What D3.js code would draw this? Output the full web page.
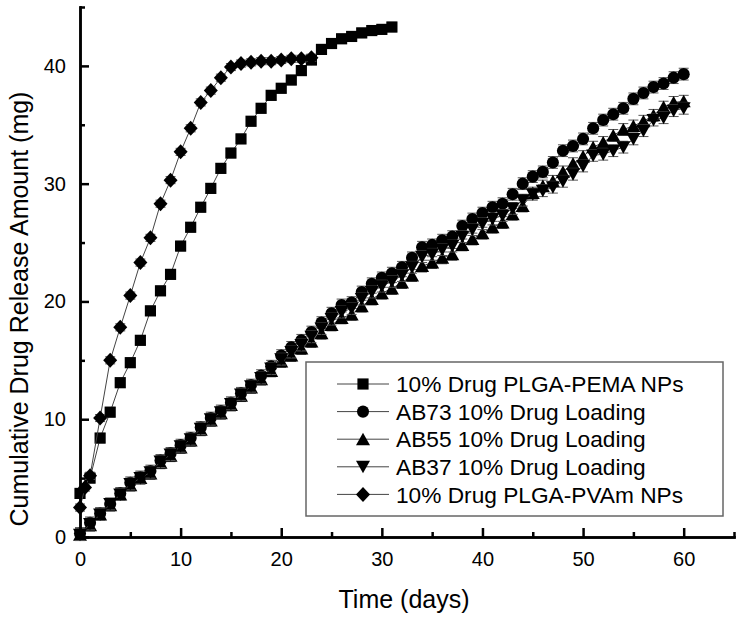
<!DOCTYPE html>
<html>
<head>
<meta charset="utf-8">
<script src="https://cdn.jsdelivr.net/npm/d3@7"></script>
<style>
  body { margin: 0; background: #fff; }
  text { font-family: Arial, "Liberation Sans", sans-serif; fill: #000; }
</style>
</head>
<body>
<svg id="chart" width="743" height="619"></svg>
<script>
// data (days, mg)
const pemaDays = [0, 1, 2, 3, 4, 5, 6, 7, 8, 9, 10, 11, 12, 13, 14, 15, 16, 17, 18, 19, 20,
                  21, 22, 23, 24, 25, 26, 27, 28, 29, 30, 31];
const pemaVals = [3.7, 5.0, 8.4, 10.6, 13.1, 14.8, 16.7, 19.2, 20.9, 22.3, 24.7, 26.3, 28.0, 29.6,
                  31.3, 32.6, 33.8, 35.3, 36.4, 37.5, 38.1, 38.8, 39.6, 40.5, 41.4, 41.9, 42.3,
                  42.5, 42.8, 43.0, 43.1, 43.3];

const pvamDays = [0, 0.5, 1, 2, 3, 4, 5, 6, 7, 8, 9, 10, 11, 12, 13, 14, 15, 16, 17, 18, 19,
                  20, 21, 22, 23];
const pvamVals = [2.5, 4.2, 5.2, 10.1, 15.0, 17.8, 20.5, 23.3, 25.4, 28.3, 30.3, 32.7, 34.7,
                  36.9, 37.9, 39.0, 39.9, 40.2, 40.3, 40.4, 40.4, 40.5, 40.6, 40.6, 40.7];

const abDays = [0, 1, 2, 3, 4, 5, 6, 7, 8, 9, 10, 11, 12, 13, 14, 15, 16, 17, 18, 19, 20,
                21, 22, 23, 24, 25, 26, 27, 28, 29, 30, 31, 32, 33, 34, 35, 36, 37, 38, 39, 40,
                41, 42, 43, 44, 45, 46, 47, 48, 49, 50, 51, 52, 53, 54, 55, 56, 57, 58, 59, 60];
const ab73Vals = [0.3, 1.2, 2.0, 2.8, 3.7, 4.6, 5.1, 5.6, 6.5, 7.1, 7.8, 8.4, 9.3, 10.1, 10.7,
                  11.4, 12.2, 12.9, 13.7, 14.5, 15.4, 16.1, 16.7, 17.4, 18.2, 19.0, 19.7, 19.9,
                  20.8, 21.5, 22.0, 22.4, 22.9, 23.7, 24.6, 24.8, 25.2, 25.5, 26.4, 27.0, 27.5,
                  28.0, 28.3, 29.1, 30.0, 30.6, 31.0, 31.8, 32.8, 33.2, 33.8, 34.7, 35.4, 35.9,
                  36.4, 37.2, 37.7, 38.2, 38.5, 39.0, 39.3];
const ab55Vals = [0.2, 1.0, 1.9, 2.7, 3.6, 4.4, 5.0, 5.4, 6.3, 6.9, 7.6, 8.2, 9.1, 9.9, 10.5,
                  11.2, 12.0, 12.7, 13.4, 14.1, 14.9, 15.4, 16.0, 16.6, 17.3, 18.0, 18.6, 18.9,
                  19.6, 20.2, 20.7, 21.1, 21.6, 22.2, 23.0, 23.3, 23.7, 24.0, 24.8, 25.3, 25.8,
                  26.3, 26.7, 27.4, 28.1, 29.2, 29.8, 30.2, 31.0, 31.7, 32.3, 33.1, 33.5, 34.1,
                  34.6, 34.9, 35.3, 35.8, 36.5, 36.9, 37.0];
const ab37Vals = [0.2, 1.1, 1.9, 2.8, 3.6, 4.5, 5.0, 5.5, 6.4, 7.0, 7.7, 8.3, 9.2, 10.0, 10.6,
                  11.3, 12.1, 12.8, 13.5, 14.3, 15.1, 15.7, 16.3, 17.0, 17.7, 18.5, 19.1, 19.4,
                  20.2, 20.8, 21.3, 21.7, 22.2, 22.9, 23.8, 24.0, 24.4, 24.7, 25.5, 26.1, 26.6,
                  27.0, 27.3, 27.9, 28.6, 29.1, 29.4, 29.7, 30.2, 30.8, 31.5, 32.4, 32.5, 32.8,
                  33.1, 33.8, 34.5, 35.4, 35.6, 36.2, 36.4];

const xTicks = [0, 10, 20, 30, 40, 50, 60];
const xMinor = [5, 15, 25, 35, 45, 55, 65];
const yTicks = [0, 10, 20, 30, 40];
const yMinor = [5, 15, 25, 35, 45];

const legendNames = ["10% Drug PLGA-PEMA NPs", "AB73 10% Drug Loading", "AB55 10% Drug Loading",
                     "AB37 10% Drug Loading", "10% Drug PLGA-PVAm NPs"];

// marker shapes
const triUp = { draw(ctx) { ctx.moveTo(0, -6.5); ctx.lineTo(7, 6); ctx.lineTo(-7, 6); ctx.closePath(); } };
const triDown = { draw(ctx) { ctx.moveTo(0, 6.5); ctx.lineTo(7, -6); ctx.lineTo(-7, -6); ctx.closePath(); } };
const diamond = { draw(ctx) { ctx.moveTo(0, -7.5); ctx.lineTo(7, 0); ctx.lineTo(0, 7.5); ctx.lineTo(-7, 0); ctx.closePath(); } };

const series = [
    { name: legendNames[0], days: pemaDays, vals: pemaVals, err: 0.4, shape: d3.symbolSquare, size: 125 },
    { name: legendNames[1], days: abDays, vals: ab73Vals, err: 0.5, shape: d3.symbolCircle, size: 115 },
    { name: legendNames[2], days: abDays, vals: ab55Vals, err: 0.5, shape: triUp, size: 64 },
    { name: legendNames[3], days: abDays, vals: ab37Vals, err: 0.5, shape: triDown, size: 64 },
    { name: legendNames[4], days: pvamDays, vals: pvamVals, err: 0.3, shape: diamond, size: 64 }
];

const svg = d3.select("#chart");
svg.append("rect").attr("width", 743).attr("height", 619).attr("fill", "#fff");

const x = d3.scaleLinear().domain([0, 65]).range([80, 734]);
const y = d3.scaleLinear().domain([0, 45]).range([537, 7]);

// data
const plot = svg.append("g");
const line = d3.line().x(d => x(d[0])).y(d => y(d[1]));

series.forEach(s => {
    const pts = s.days.map((d, i) => [d, s.vals[i]]);

    plot.append("path")
        .datum(pts)
        .attr("d", line)
        .attr("fill", "none")
        .attr("stroke", "#444")
        .attr("stroke-width", 1);

    const eb = plot.append("g").attr("stroke", "#555").attr("stroke-width", 1);
    pts.forEach(p => {
        const cx = x(p[0]);
        eb.append("line").attr("x1", cx).attr("x2", cx)
            .attr("y1", y(p[1] - s.err)).attr("y2", y(p[1] + s.err));
        eb.append("line").attr("x1", cx - 5).attr("x2", cx + 5)
            .attr("y1", y(p[1] - s.err)).attr("y2", y(p[1] - s.err));
        eb.append("line").attr("x1", cx - 5).attr("x2", cx + 5)
            .attr("y1", y(p[1] + s.err)).attr("y2", y(p[1] + s.err));
    });

    plot.append("g").selectAll("path")
        .data(pts)
        .join("path")
        .attr("transform", d => `translate(${x(d[0])},${y(d[1])})`)
        .attr("d", d3.symbol().type(s.shape).size(s.size))
        .attr("fill", "#000");
});

// axes
function styleAxis(g) {
    g.select(".domain").attr("stroke", "#000").attr("stroke-width", 2.5).attr("stroke-linecap", "square");
    g.selectAll(".tick line").attr("stroke", "#000").attr("stroke-width", 2.5);
    g.selectAll(".tick text").style("font-size", "20px").attr("fill", "#000");
}

svg.append("g")
    .attr("transform", "translate(0,537)")
    .call(d3.axisBottom(x).tickValues(xMinor).tickSizeInner(-5).tickSizeOuter(0).tickFormat(""))
    .call(styleAxis);
svg.append("g")
    .attr("transform", "translate(0,537)")
    .call(d3.axisBottom(x).tickValues(xTicks).tickSizeInner(-9).tickSizeOuter(0).tickPadding(15))
    .call(styleAxis);

svg.append("g")
    .attr("transform", "translate(80,0)")
    .call(d3.axisLeft(y).tickValues(yMinor).tickSizeInner(-5).tickSizeOuter(0).tickFormat(""))
    .call(styleAxis);
svg.append("g")
    .attr("transform", "translate(80,0)")
    .call(d3.axisLeft(y).tickValues(yTicks).tickSizeInner(-9).tickSizeOuter(0).tickPadding(14))
    .call(styleAxis);

svg.append("text")
    .attr("x", 404).attr("y", 608)
    .attr("text-anchor", "middle")
    .style("font-size", "25px")
    .text("Time (days)");

svg.append("text")
    .attr("transform", "translate(28,309) rotate(-90)")
    .attr("text-anchor", "middle")
    .style("font-size", "25px")
    .text("Cumulative Drug Release Amount (mg)");

// legend
const legend = svg.append("g");
legend.append("rect")
    .attr("x", 306).attr("y", 362).attr("width", 417).attr("height", 154)
    .attr("fill", "#fff").attr("stroke", "#666").attr("stroke-width", 1.5);

series.forEach((s, i) => {
    const ly = 384 + i * 27.6;
    legend.append("line")
        .attr("x1", 337).attr("x2", 389).attr("y1", ly).attr("y2", ly)
        .attr("stroke", "#444").attr("stroke-width", 1);
    legend.append("path")
        .attr("transform", `translate(363,${ly})`)
        .attr("d", d3.symbol().type(s.shape).size(s.size))
        .attr("fill", "#000");
    legend.append("text")
        .attr("x", 396).attr("y", ly).attr("dy", "0.36em")
        .style("font-size", "22.7px")
        .text(s.name);
});
</script>
</body>
</html>
